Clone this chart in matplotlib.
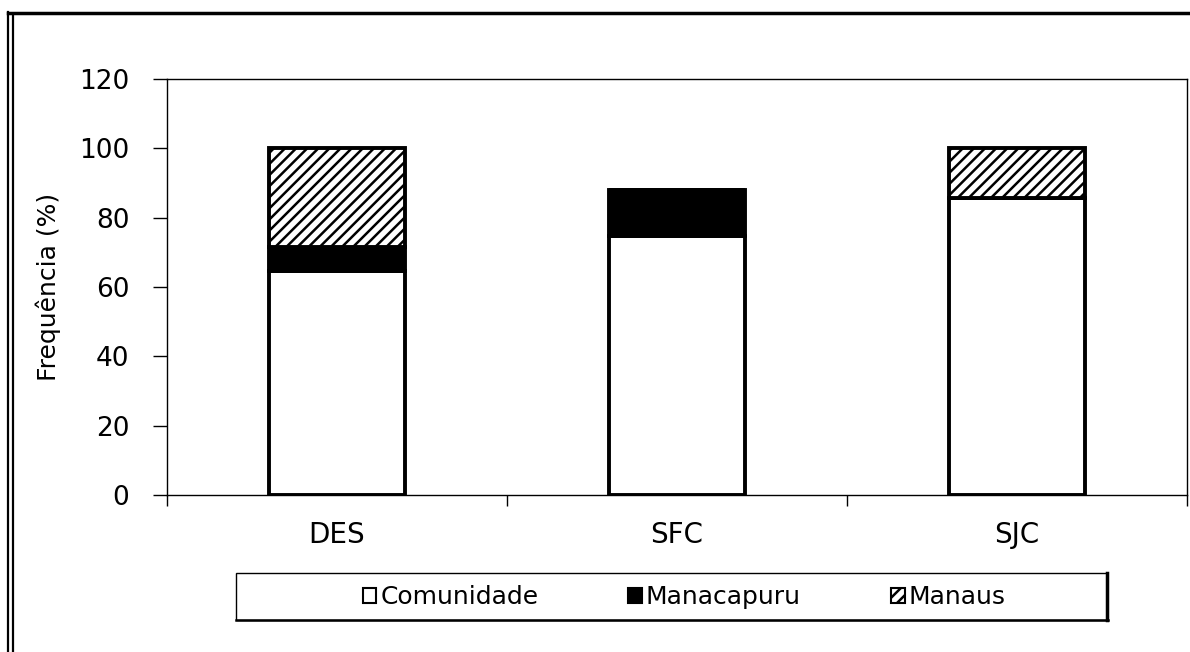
import matplotlib.pyplot as plt
from matplotlib.patches import Patch, Rectangle
from matplotlib.lines import Line2D

# values (%)
locais = ["DES", "SFC", "SJC"]
comunidade = [64.6, 74.6, 85.7]
manacapuru = [6.8, 13.5, 0.0]
manaus = [28.6, 0.0, 14.3]
yticks = [0, 20, 40, 60, 80, 100, 120]

plt.rcParams['font.family'] = ['DejaVu Sans']
plt.rcParams['hatch.linewidth'] = 1.8
plt.rcParams['hatch.color'] = 'black'

fig = plt.figure(figsize=(11.9, 6.52), dpi=100)
ax = fig.add_axes([167 / 1190, 1 - 495 / 652, 1020 / 1190, 416 / 652])

x = list(range(len(locais)))
w = 0.4
bottom2 = [a for a in comunidade]
bottom3 = [a + b for a, b in zip(comunidade, manacapuru)]

ax.bar(x, comunidade, w, color='white', edgecolor='black', linewidth=2.8, zorder=3)
ax.bar(x, manacapuru, w, bottom=bottom2, color='black', edgecolor='black', linewidth=2.8, zorder=3)
ax.bar(x, manaus, w, bottom=bottom3, color='white', edgecolor='black', hatch='///', linewidth=2.8, zorder=3)

ax.set_xlim(-0.5, 2.5)
ax.set_ylim(0, 120)
ax.set_yticks(yticks)
ax.set_yticklabels([str(v) for v in yticks], fontsize=19)
ax.tick_params(axis='y', length=10, width=1, pad=17, direction='out')
ax.set_xticks(x)
ax.set_xticklabels(locais, fontsize=20)
ax.tick_params(axis='x', which='major', length=0, pad=19)
ax.set_xticks([-0.5, 0.5, 1.5, 2.5], minor=True)
ax.tick_params(axis='x', which='minor', length=8, width=1, direction='out')
for s in ax.spines.values():
    s.set_linewidth(1)

ax.set_ylabel("Frequência (%)", fontsize=18)
ax.yaxis.set_label_coords(-0.104, 0.5)

# legend frame drawn separately
fig.patches.append(Rectangle((236 / 1190, 1 - 620 / 652), 871 / 1190, 47 / 652,
                             transform=fig.transFigure, fill=False, edgecolor='black', linewidth=1))
fig.lines.append(Line2D([1107 / 1190, 1107 / 1190], [1 - 620 / 652, 1 - 573 / 652],
                        transform=fig.transFigure, color='black', linewidth=2.5))
fig.lines.append(Line2D([236 / 1190, 1108 / 1190], [1 - 620 / 652, 1 - 620 / 652],
                        transform=fig.transFigure, color='black', linewidth=1.8))

handles = [
    Patch(facecolor='white', edgecolor='black', linewidth=1.5),
    Patch(facecolor='black', edgecolor='black', linewidth=1.5),
    Patch(facecolor='white', edgecolor='black', hatch='///', linewidth=1.5),
]
fig.legend(handles, ["Comunidade", "Manacapuru", "Manaus"], loc='center',
           bbox_to_anchor=(684 / 1190, 1 - 597 / 652), ncol=3, frameon=False,
           fontsize=18, handlelength=0.55, handleheight=0.55, handletextpad=0.15,
           columnspacing=3.6)

# outer border of the original figure
fig.lines.append(Line2D([8 / 1190, 1.0], [1 - 13 / 652, 1 - 13 / 652],
                        transform=fig.transFigure, color='black', linewidth=2.5))
fig.lines.append(Line2D([8 / 1190, 8 / 1190], [0, 1 - 12 / 652],
                        transform=fig.transFigure, color='black', linewidth=1.6))
fig.lines.append(Line2D([13 / 1190, 13 / 1190], [0, 1 - 15 / 652],
                        transform=fig.transFigure, color='black', linewidth=1.6))

fig.savefig("out.png", dpi=100)
